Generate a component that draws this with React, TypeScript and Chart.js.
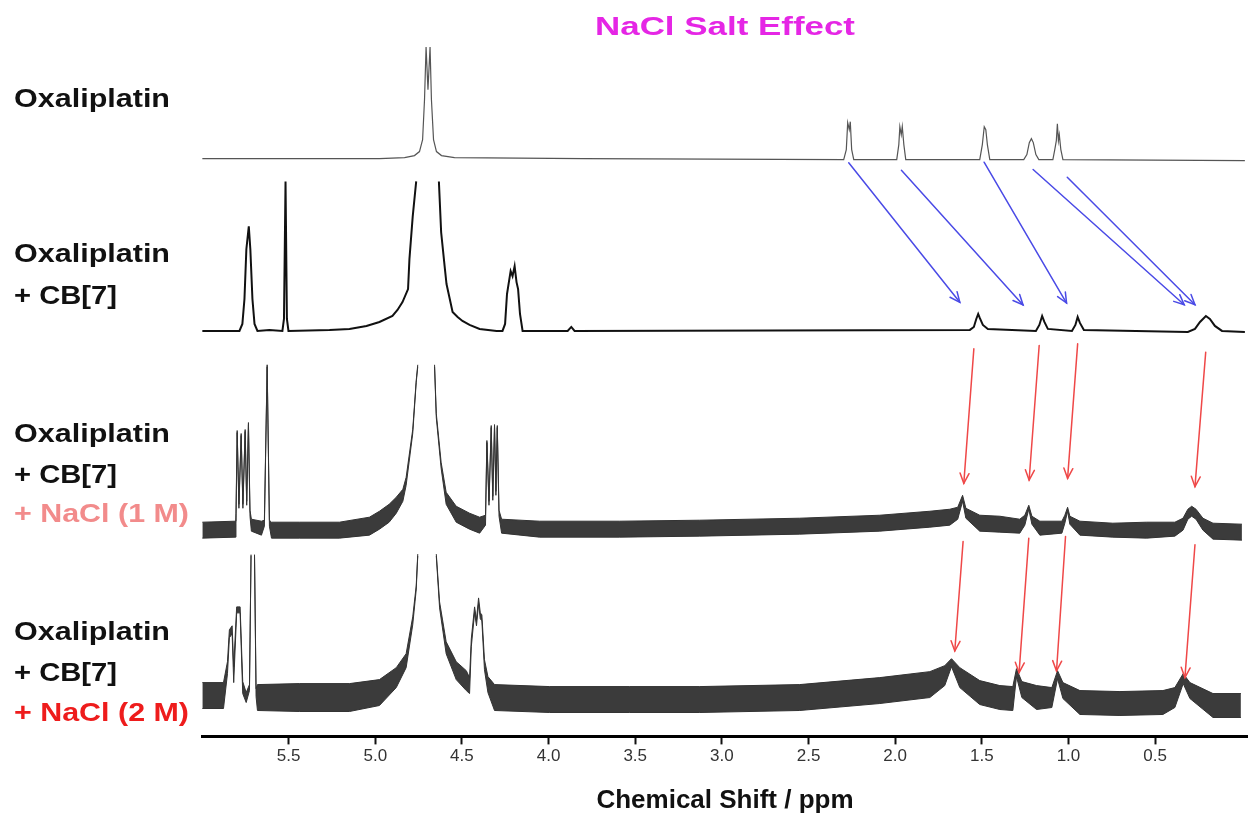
import React, { useEffect, useRef } from "react";
import { Chart, registerables } from "chart.js";

Chart.register(...registerables);

// ---------- axis ----------
const tickValues = [5.5, 5.0, 4.5, 4.0, 3.5, 3.0, 2.5, 2.0, 1.5, 1.0, 0.5];
const axisTitle = "Chemical Shift / ppm";
const chartTitle = "NaCl Salt Effect";

// vertical offsets (stacking) of the four spectra
const offsets = [580, 407, 207, 39];

// ---------- spectrum 1 : Oxaliplatin ----------
const spec1Ppm = [5.998, 4.976, 4.831, 4.774, 4.745, 4.727, 4.716, 4.707, 4.696, 4.684, 4.676, 4.664, 4.647, 4.618, 4.543, 3.8, 2.297, 2.282, 2.274, 2.265, 2.259, 2.251, 2.239, 1.991, 1.979, 1.973, 1.965, 1.959, 1.950, 1.939, 1.512, 1.497, 1.486, 1.477, 1.468, 1.454, 1.258, 1.240, 1.226, 1.214, 1.203, 1.188, 1.171, 1.090, 1.079, 1.070, 1.064, 1.058, 1.053, 1.044, 1.032, -0.018];
const spec1Int = [0, 0, 1, 3, 7, 19, 59, 112, 69, 112, 59, 19, 7, 3, 1, 0, -1, 9, 36, 29, 37, 9, -1, -1, 14, 32, 24, 32, 14, -1, -1, 14, 32, 29, 14, -1, -1, 4, 16, 20, 16, 4, -1, -1, 9, 18, 35, 18, 24, 9, -1, -2];

// ---------- spectrum 2 : Oxaliplatin + CB[7] ----------
const spec2Ppm = [5.998, 5.784, 5.767, 5.755, 5.744, 5.730, 5.721, 5.709, 5.697, 5.680, 5.611, 5.536, 5.527, 5.518, 5.510, 5.501, 5.264, 5.149, 5.051, 4.976, 4.901, 4.872, 4.843, 4.811, 4.803, 4.784, 4.764, 4.70, 4.633, 4.620, 4.600, 4.589, 4.554, 4.525, 4.497, 4.456, 4.398, 4.300, 4.266, 4.251, 4.240, 4.231, 4.219, 4.208, 4.196, 4.185, 4.176, 4.165, 4.150, 3.890, 3.869, 3.850, 1.569, 1.546, 1.532, 1.521, 1.512, 1.494, 1.465, 1.188, 1.168, 1.152, 1.139, 1.119, 0.980, 0.960, 0.947, 0.934, 0.911, 0.311, 0.270, 0.241, 0.207, 0.184, 0.155, 0.114, -0.018];
const spec2Int = [0, 0, 7, 32, 82, 105, 82, 32, 7, 0, 1, 0, 12, 150, 12, 0, 1, 2, 5, 9, 15, 21, 29, 42, 72, 115, 150, null, 150, 99, 65, 47, 19, 14, 10, 6, 2, 0, 0, 7, 37, 47, 60, 55, 65, 49, 42, 17, 0, 0, 4, 0, 1, 4, 12, 17, 13, 6, 2, 0, 6, 15, 9, 2, 0, 6, 14, 8, 1, -1, 2, 9, 15, 12, 5, 0, -1];

// ---------- spectrum 3 : + NaCl (1 M) ----------
const spec3Ppm = [5.998, 5.807, 5.804, 5.797, 5.787, 5.774, 5.764, 5.751, 5.742, 5.732, 5.723, 5.715, 5.657, 5.640, 5.624, 5.611, 5.599, 5.438, 5.207, 5.034, 4.976, 4.920, 4.879, 4.841, 4.822, 4.784, 4.764, 4.755, 4.70, 4.658, 4.648, 4.620, 4.591, 4.533, 4.456, 4.398, 4.364, 4.356, 4.344, 4.331, 4.322, 4.312, 4.304, 4.296, 4.286, 4.271, 4.052, 3.590, 3.128, 2.551, 2.089, 1.800, 1.685, 1.639, 1.611, 1.592, 1.512, 1.396, 1.281, 1.252, 1.229, 1.211, 1.165, 1.038, 1.021, 1.005, 0.992, 0.934, 0.744, 0.549, 0.386, 0.339, 0.311, 0.289, 0.264, 0.224, 0.166, -0.001];
const spec3Int = [0, 1, 12, 99, 24, 96, 24, 100, 27, 107, 17, 5, 2, 7, 165, 7, 0, 0, 0, 4, 10, 17, 25, 35, 49, 99, 149, 165, null, 165, 115, 65, 32, 16, 9, 5, 10, 89, 27, 104, 32, 105, 37, 104, 17, 4, 1, 1, 2, 4, 7, 11, 13, 17, 32, 17, 7, 6, 4, 10, 23, 10, 2, 3, 11, 21, 10, 2, 0, 0, 1, 6, 16, 19, 16, 6, -1, -2];
const spec3Noise = [8, 8, 5, 1, 2, 1, 2, 1, 2, 1, 3, 6, 7, 3, 1, 3, 8, 8, 8, 9, 9, 9, 8, 6, 4, 2, 1, 1, null, 1, 2, 3, 6, 8, 8, 8, 5, 1, 2, 1, 2, 1, 2, 1, 3, 7, 8, 8, 8, 8, 8, 8, 8, 6, 3, 5, 8, 8, 7, 5, 2, 4, 7, 6, 4, 2, 4, 7, 7, 8, 7, 6, 5, 5, 5, 6, 8, 8];

// ---------- spectrum 4 : + NaCl (2 M) ----------
const spec4Ppm = [5.998, 5.876, 5.853, 5.842, 5.826, 5.817, 5.800, 5.780, 5.765, 5.745, 5.726, 5.717, 5.707, 5.697, 5.688, 5.680, 5.438, 5.149, 4.976, 4.879, 4.822, 4.784, 4.764, 4.755, 4.70, 4.648, 4.629, 4.591, 4.533, 4.475, 4.456, 4.446, 4.427, 4.416, 4.404, 4.394, 4.385, 4.370, 4.350, 4.312, 3.994, 3.532, 3.128, 2.551, 2.089, 1.800, 1.714, 1.675, 1.627, 1.512, 1.396, 1.321, 1.300, 1.269, 1.184, 1.096, 1.063, 1.032, 0.934, 0.703, 0.455, 0.386, 0.338, 0.299, 0.166, 0.005];
const spec4Int = [2, 2, 30, 64, 68, 23, 88, 88, 10, 0, 10, 143, null, 143, 5, 0, 0, 0, 5, 20, 37, 77, 110, 143, null, 143, 93, 50, 27, 17, 12, 55, 88, 75, 97, 82, 80, 33, 13, 0, -2, -2, -2, 0, 7, 13, 22, 35, 20, 5, 0, -1, 25, 8, 0, 0, 23, 7, -5, -6, -5, 0, 19, 7, -8, -8];
const spec4Noise = [13, 13, 6, 4, 4, 8, 3, 3, 6, 5, 3, 0.5, null, 0.5, 4, 13, 14, 14, 13, 10, 7, 4, 2, 1, null, 1, 3, 6, 9, 10, 8, 4, 3, 3, 3, 3, 3, 5, 8, 13, 13, 13, 13, 13, 13, 13, 10, 4, 10, 12, 12, 12, 4, 8, 12, 10, 4, 8, 12, 12, 12, 10, 5, 8, 12, 12];

// ---------- arrows (ppm, stacked intensity) ----------
const blueArrowStart = [[2.268, 575.7], [1.964, 568.3], [1.487, 576.3], [1.204, 569], [1.007, 561.3]];
const blueArrowEnd = [[1.627, 435.7], [1.262, 433], [1.011, 435], [0.332, 433.3], [0.270, 433.3]];
const redArrowStart = [[1.546, 389], [1.169, 392.3], [0.947, 394], [0.208, 385.7], [1.608, 195.7], [1.229, 199], [1.017, 200.7], [0.270, 192.3]];
const redArrowEnd = [[1.604, 254], [1.227, 257.3], [1.005, 259], [0.270, 250.7], [1.656, 85.7], [1.285, 64], [1.069, 65.7], [0.328, 59]];

// ---------- text labels ----------
const sampleLabels = [
  ["Oxaliplatin"],
  ["Oxaliplatin", "+ CB[7]"],
  ["Oxaliplatin", "+ CB[7]", "+ NaCl (1 M)"],
  ["Oxaliplatin", "+ CB[7]", "+ NaCl (2 M)"],
];

const FONT = '"Liberation Sans", Arial, Helvetica, sans-serif';

// layout of text (positions / styles only)
const labelBaselines = [[107], [262, 304], [442, 483, 522], [640, 681, 721]];
const labelWidths: Record<string, number> = {
  "Oxaliplatin": 156,
  "+ CB[7]": 103,
  "+ NaCl (1 M)": 175,
  "+ NaCl (2 M)": 175,
};
const labelColors: Record<string, string> = {
  "+ NaCl (1 M)": "#f28b8b",
  "+ NaCl (2 M)": "#ee1c1c",
};

function stretchedText(ctx: CanvasRenderingContext2D, text: string, x: number, y: number, w: number, size: number, color: string) {
  ctx.save();
  ctx.font = `bold ${size}px ${FONT}`;
  ctx.fillStyle = color;
  ctx.textAlign = "left";
  ctx.textBaseline = "alphabetic";
  const m = ctx.measureText(text).width;
  ctx.translate(x, y);
  ctx.scale(w / m, 1);
  ctx.fillText(text, 0, 0);
  ctx.restore();
}

const annotationPlugin = {
  id: "nmrAnnotations",
  afterDatasetsDraw(chart: any) {
    const { ctx, scales } = chart;
    const xs = scales.x;
    const ys = scales.y;
    const drawArrow = (from: number[], to: number[], color: string) => {
      const x1 = xs.getPixelForValue(from[0]);
      const y1 = ys.getPixelForValue(from[1]);
      const x2 = xs.getPixelForValue(to[0]);
      const y2 = ys.getPixelForValue(to[1]);
      ctx.save();
      ctx.strokeStyle = color;
      ctx.lineWidth = 1.5;
      ctx.lineCap = "round";
      ctx.beginPath();
      ctx.moveTo(x1, y1);
      ctx.lineTo(x2, y2);
      ctx.stroke();
      const a = Math.atan2(y2 - y1, x2 - x1);
      const L = 11;
      const s = 0.42;
      ctx.beginPath();
      ctx.moveTo(x2 - L * Math.cos(a - s), y2 - L * Math.sin(a - s));
      ctx.lineTo(x2, y2);
      ctx.lineTo(x2 - L * Math.cos(a + s), y2 - L * Math.sin(a + s));
      ctx.stroke();
      ctx.restore();
    };
    blueArrowStart.forEach((p, i) => drawArrow(p, blueArrowEnd[i], "#4a4ae6"));
    redArrowStart.forEach((p, i) => drawArrow(p, redArrowEnd[i], "#ef4848"));
  },
  afterDraw(chart: any) {
    const ctx = chart.ctx as CanvasRenderingContext2D;
    stretchedText(ctx, chartTitle, 595, 35, 260, 26, "#e526e5");
    sampleLabels.forEach((lines, i) => {
      lines.forEach((t, j) => {
        stretchedText(ctx, t, 14, labelBaselines[i][j], labelWidths[t], 26, labelColors[t] || "#111");
      });
    });
  },
};

function traceData(ppm: number[], ints: (number | null)[], offset: number) {
  return ppm.map((p, i) => ({ x: p, y: ints[i] == null ? null : offset + (ints[i] as number) }));
}

function envelopeData(ppm: number[], ints: (number | null)[], noise: (number | null)[], offset: number, sign: number) {
  return ppm.map((p, i) => ({
    x: p,
    y: ints[i] == null ? null : offset + (ints[i] as number) + sign * (noise[i] as number),
  }));
}

export default function App() {
  const ref = useRef<HTMLCanvasElement>(null);

  useEffect(() => {
    if (!ref.current) return;
    const base = { pointRadius: 0, tension: 0, spanGaps: false };
    const noisyFill = "rgba(10,10,10,0.8)";
    const chart = new Chart(ref.current, {
      type: "line",
      data: {
        datasets: [
          { ...base, label: "Oxaliplatin", data: traceData(spec1Ppm, spec1Int, offsets[0]), borderColor: "#555", borderWidth: 1.2, fill: false },
          { ...base, label: "Oxaliplatin + CB[7]", data: traceData(spec2Ppm, spec2Int, offsets[1]), borderColor: "#111", borderWidth: 2, fill: false },
          { ...base, label: "1M upper", data: envelopeData(spec3Ppm, spec3Int, spec3Noise, offsets[2], 1), borderColor: "#333", borderWidth: 1, fill: false },
          { ...base, label: "1M lower", data: envelopeData(spec3Ppm, spec3Int, spec3Noise, offsets[2], -1), borderColor: "#333", borderWidth: 1, fill: "-1", backgroundColor: noisyFill },
          { ...base, label: "2M upper", data: envelopeData(spec4Ppm, spec4Int, spec4Noise, offsets[3], 1), borderColor: "#333", borderWidth: 1, fill: false },
          { ...base, label: "2M lower", data: envelopeData(spec4Ppm, spec4Int, spec4Noise, offsets[3], -1), borderColor: "#333", borderWidth: 1, fill: "-1", backgroundColor: noisyFill },
        ] as any,
      },
      options: {
        responsive: false,
        animation: false,
        devicePixelRatio: 1,
        layout: { padding: { left: 202, right: 0, top: 39, bottom: 0 } },
        plugins: { legend: { display: false }, tooltip: { enabled: false }, title: { display: false } },
        scales: {
          x: {
            type: "linear",
            reverse: true,
            min: -0.036,
            max: 6.0,
            afterBuildTicks: (scale: any) => {
              scale.ticks = tickValues.map((v) => ({ value: v }));
            },
            ticks: {
              autoSkip: false,
              maxRotation: 0,
              padding: 2,
              color: "#333",
              font: { family: FONT, size: 17 },
              callback: (v: any) => Number(v).toFixed(1),
            },
            grid: { drawOnChartArea: false, drawTicks: true, tickLength: 8, tickWidth: 2, tickColor: "#111" },
            border: { display: true, color: "#000", width: 3 },
            title: {
              display: true,
              text: axisTitle,
              color: "#111",
              font: { family: FONT, size: 26, weight: "bold" },
              padding: { top: 16, bottom: 1 },
            },
          },
          y: { type: "linear", display: false, min: 0, max: 700 },
        },
      } as any,
      plugins: [annotationPlugin],
    });
    return () => chart.destroy();
  }, []);

  return (
    <div style={{ position: "fixed", left: 0, top: 0, width: 1248, height: 817, background: "#fff" }}>
      <canvas ref={ref} width={1248} height={817} style={{ display: "block", width: 1248, height: 817 }} />
    </div>
  );
}
